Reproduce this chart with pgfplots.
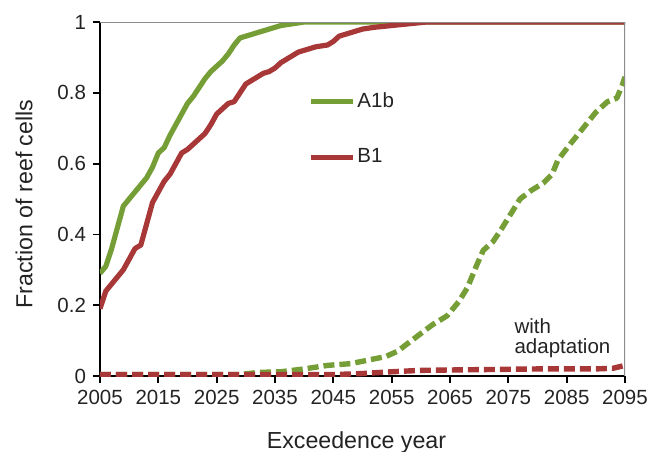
\documentclass[border=0pt]{standalone}
\usepackage{pgfplots}
\pgfplotsset{compat=1.18}
\usepackage{fontspec}
\setmainfont{Liberation Sans}
\definecolor{cgreen}{RGB}{118,158,55}
\definecolor{cred}{RGB}{168,56,56}
\definecolor{ctext}{RGB}{35,35,35}
\begin{document}
\begin{tikzpicture}
\begin{axis}[
  name=ax,
  scale only axis,
  width=262.5pt, height=177pt,
  xmin=2005, xmax=2095, ymin=0, ymax=1,
  xtick={2005,2015,...,2095},
  ytick={0,0.2,0.4,0.6,0.8,1},
  axis x line*=bottom, axis y line*=left,
  axis line style={black, line width=1pt, -},
  tick style={black, line width=0.9pt},
  tick align=outside,
  major tick length=3.5pt,
  /pgf/number format/assume math mode=true,
  /pgf/number format/1000 sep={},
  yticklabel style={/pgf/number format/fixed},
  ticklabel style={font=\fontsize{10.25}{12}\selectfont, text=ctext},
  label style={font=\fontsize{11.6}{14}\selectfont, text=ctext},
  xlabel={Exceedence year},
  ylabel={Fraction of reef cells},
  xlabel style={at={(axis description cs:0.5,0)}, anchor=base, yshift=-36pt, xshift=-3pt},
  ylabel style={at={(axis description cs:0,0.5)}, anchor=center, yshift=38pt, xshift=-2.5pt},
  legend style={draw=none, fill=none, at={(axis cs:2039.6,0.6965)}, anchor=west,
    font=\fontsize{10.25}{12}\selectfont, text=ctext, row sep=17pt,
    nodes={inner sep=1pt}},
  legend cell align=left,
  legend image code/.code={\draw[#1] (0pt,0pt) -- (21pt,0pt);},
]
\addplot[cgreen, line width=2.6pt, line join=round] coordinates {
(2005,0.29) (2006,0.31) (2007,0.36) (2008,0.42) (2009,0.48) (2010,0.50)
(2011,0.52) (2012,0.54) (2013,0.56) (2014,0.59) (2015,0.63) (2016,0.645)
(2017,0.68) (2018,0.71) (2019,0.74) (2020,0.77) (2021,0.79) (2022,0.815)
(2023,0.84) (2024,0.86) (2025,0.875) (2026,0.89) (2027,0.91) (2028,0.935)
(2029,0.955) (2030,0.96) (2031,0.965) (2032,0.97) (2034,0.98) (2036,0.99)
(2038,0.995) (2040,1.0) (2095,1.0)
};
\addlegendentry{A1b}
\addplot[cred, line width=2.6pt, line join=round] coordinates {
(2005,0.19) (2006,0.24) (2007,0.26) (2008,0.28) (2009,0.30) (2010,0.33)
(2011,0.36) (2012,0.37) (2013,0.43) (2014,0.49) (2015,0.52) (2016,0.55)
(2017,0.57) (2018,0.60) (2019,0.63) (2020,0.64) (2021,0.655) (2022,0.67)
(2023,0.685) (2024,0.71) (2025,0.74) (2026,0.755) (2027,0.77) (2028,0.775)
(2029,0.80) (2030,0.825) (2031,0.835) (2032,0.845) (2033,0.855) (2034,0.86)
(2035,0.87) (2036,0.885) (2037,0.895) (2038,0.905) (2039,0.915) (2040,0.92)
(2042,0.93) (2044,0.935) (2045,0.945) (2046,0.96) (2048,0.97) (2050,0.98)
(2052,0.985) (2055,0.99) (2058,0.995) (2061,1.0) (2095,1.0)
};
\addlegendentry{B1}
\addplot[cgreen, line width=2.7pt, dash pattern=on 5.5pt off 2.5pt, line join=round, forget plot] coordinates {
(2005,0.004) (2029,0.004) (2032,0.01) (2036,0.012) (2040,0.02) (2044,0.03)
(2048,0.035) (2051,0.045) (2054,0.055) (2056,0.07) (2058,0.095) (2060,0.12)
(2062,0.145) (2064.5,0.17) (2066.5,0.21) (2068,0.25) (2069.5,0.31) (2070.7,0.355)
(2072.4,0.38) (2074,0.42) (2075.5,0.46) (2077,0.50) (2079,0.525) (2081,0.545)
(2082.5,0.57) (2083.5,0.61) (2085.6,0.655) (2087.8,0.70) (2090,0.745)
(2092,0.775) (2093.6,0.785) (2094.5,0.82) (2095,0.845)
};
\addplot[cred, line width=2.7pt, dash pattern=on 5.5pt off 2.5pt, line join=round, forget plot] coordinates {
(2005,0.004) (2045,0.004) (2050,0.007) (2055,0.012) (2060,0.016) (2070,0.018)
(2080,0.02) (2090,0.02) (2093,0.022) (2095,0.03)
};
\draw[black!45, line width=0.9pt] (rel axis cs:0,1) -- (rel axis cs:1,1) -- (rel axis cs:1,0);
\node[anchor=north west, inner sep=0pt, align=left, text=ctext,
  font=\fontsize{10.25}{10}\selectfont] at (axis cs:2076,0.164) {with\\adaptation};
\end{axis}
\pgfresetboundingbox
\path[use as bounding box] ([shift={(-50pt,-37.5pt)}]ax.south west) rectangle ([shift={(12.5pt,11pt)}]ax.north east);
\end{tikzpicture}
\end{document}
